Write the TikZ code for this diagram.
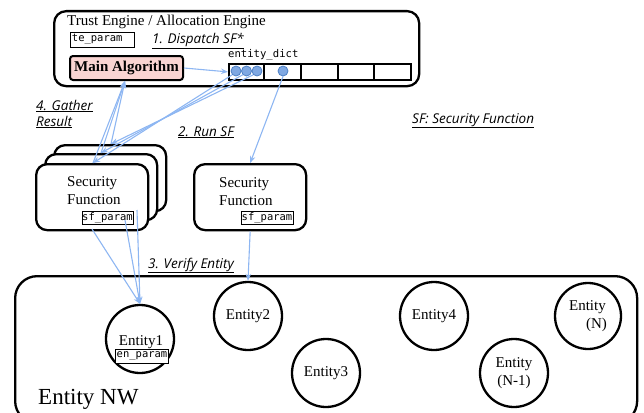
\documentclass[tikz,border=0pt]{standalone}
\usepackage{fontspec}
\setmainfont{Liberation Serif}
\setmonofont{DejaVu Sans Mono}
\newfontfamily\lblfont{Open Sans}
\usetikzlibrary{arrows.meta}
\definecolor{arrowblue}{HTML}{8DB6F2}
\definecolor{dotfill}{HTML}{7FA8E2}
\definecolor{dotdraw}{HTML}{4C7FC4}
\definecolor{pinkfill}{HTML}{F9D4D2}
\begin{document}
\begin{tikzpicture}[x=1pt,y=-1pt,
  frame/.style={draw, line width=2.3pt, inner sep=0pt, anchor=north west},
  sfbox/.style={draw, line width=2.3pt, rounded corners=11pt, fill=white, minimum width=112pt, minimum height=66pt, inner sep=0pt, anchor=north west},
  param/.style={draw, line width=0.9pt, inner sep=0pt, minimum height=13pt, font=\ttfamily\fontsize{10.5}{11}\selectfont},
  ent/.style={draw, circle, line width=2.3pt, minimum size=68pt, inner sep=0pt, font=\fontsize{15}{18}\selectfont, align=center},
  sertext/.style={inner sep=0pt, font=\fontsize{15}{18}\selectfont},
  dotnode/.style={circle, fill=dotfill, draw=dotdraw, line width=0.8pt, minimum size=10pt, inner sep=0pt},
  flow/.style={draw=arrowblue, line width=1.1pt, -{Stealth[length=7pt,width=5.5pt]}},
  lbl/.style={font=\lblfont\itshape\fontsize{13.5}{16}\selectfont, anchor=base west, inner sep=0pt},
]
\useasboundingbox (0,0) rectangle (644,412);

% Trust engine frame
\node[frame, rounded corners=12pt, minimum width=365pt, minimum height=75pt] (te) at (53,10) {};
\node[sertext, anchor=base west] (title) at (67,26) {Trust Engine / Allocation Engine};
\node[param, anchor=west, minimum height=15pt, text width=61pt, inner xsep=1.5pt, align=left] (teparam) at (70,39.5) {te\_param};
\node[lbl] (l1) at (152,44) {\underline{1. Dispatch SF*}};
\node[draw, line width=2pt, rounded corners=3pt, fill=pinkfill, minimum width=113pt, minimum height=24pt, inner sep=0pt, font=\bfseries\fontsize{15}{18}\selectfont] (main) at (126.5,68) {Main Algorithm};
\node[anchor=base west, inner sep=0pt, font=\ttfamily\fontsize{10.6}{12}\selectfont] (edl) at (228,57) {entity\_dict};

% entity_dict array
\node[frame, line width=1.8pt, minimum width=182pt, minimum height=16pt] (arr) at (228,63) {};
\foreach \xx in {264,301,338,374} \draw[line width=1.8pt] (\xx,63) -- (\xx,79);
\node[dotnode] (d1) at (236,71) {};
\node[dotnode] (d2) at (246.5,71) {};
\node[dotnode] (d3) at (257,71) {};
\node[dotnode] (d4) at (283,71) {};
\draw[flow] (main.east) -- (arr.west);

% Security function stack
\node[sfbox] (sf3) at (53,144) {};
\node[sfbox] (sf2) at (44,153) {};
\node[sfbox] (sf1) at (35,163) {};
\node[sertext, anchor=west, align=left] (sft1) at (67,191) {Security\\Function};
\node[param, minimum width=51pt] (sfp1) at (107.5,218) {sf\_param};

\node[sfbox] (sfr) at (193,163) {};
\node[sertext, anchor=west, align=left] (sftr) at (219,192) {Security\\Function};
\node[param, minimum width=52pt] (sfp2) at (267,218) {sf\_param};

% labels
\node[lbl] (l4a) at (36,110) {\underline{4. Gather}};
\node[lbl] (l4b) at (36,126) {\underline{Result}};
\node[lbl] (l2) at (178,136) {\underline{2. Run SF}};
\node[lbl] (l3) at (148,268) {\underline{3. Verify Entity}};
\node[lbl] (lsf) at (412,123) {\underline{SF: Security Function}};

% Entity network
\node[frame, rounded corners=22pt, minimum width=622pt, minimum height=147pt] (nw) at (14,275) {};
\node[inner sep=0pt, anchor=base west, font=\fontsize{23}{26}\selectfont] (nwl) at (38,404) {Entity NW};

\node[ent] (e1) at (140,339) {};
\node[sertext, anchor=base] (e1t) at (141,345) {Entity1};
\node[param, minimum width=53pt, minimum height=14pt, fill=white] (enp) at (142,356) {en\_param};
\node[ent] (e2) at (248,316) {Entity2};
\node[ent] (e3) at (326,373) {Entity3};
\node[ent] (e4) at (434,316) {Entity4};
\node[ent] (en1) at (514,373) {Entity\\(N-1)};
\node[ent, minimum size=66pt, align=left] (en) at (588,316) {Entity\\\hspace{17pt}(N)};

% connectors
\coordinate (t1) at (93,163);
\coordinate (t2) at (101,153);
\coordinate (t3) at (111,144);
\coordinate (g) at (125,81);
\coordinate (b1) at (92,229);
\coordinate (b2) at (125,220);
\coordinate (b3) at (137,210);
\draw[flow] (d1.south west) -- (t1);
\draw[flow] (d2.south west) -- (t2);
\draw[flow] (d3.south west) -- (t3);
\draw[flow] (t1) -- (g);
\draw[flow] (t2) -- (g);
\draw[flow] (t3) -- (g);
\draw[flow] (d4.south) -- (sfr.north);
\draw[flow] (b1) -- (e1.north);
\draw[flow] (b2) -- (e1.north);
\draw[flow] (b3) -- (e1.north);
\draw[flow] (sfr.south) -- (e2.north);
\end{tikzpicture}
\end{document}
